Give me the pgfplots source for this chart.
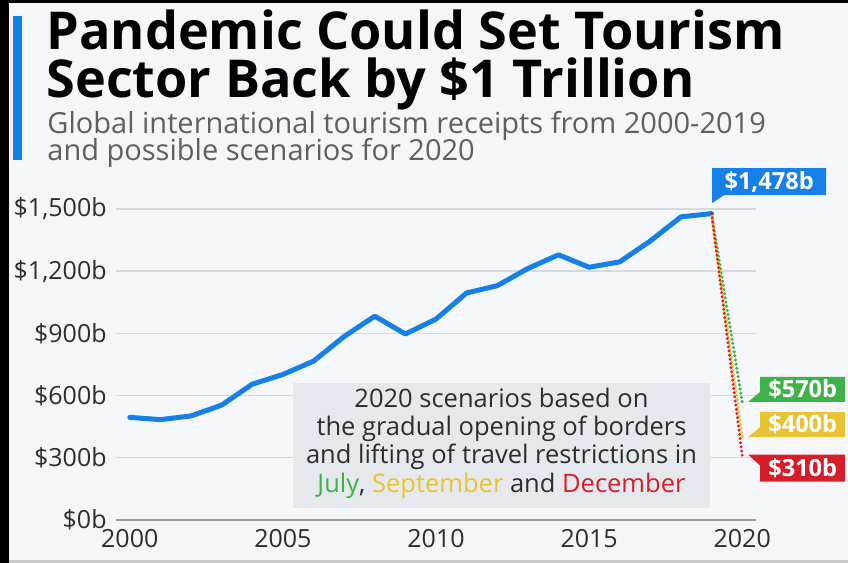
\documentclass[border=0pt]{standalone}
\usepackage{fontspec}
\setmainfont{Open Sans}
\usepackage{pgfplots}
\pgfplotsset{compat=1.18}
\definecolor{bg}{RGB}{244,246,249}
\definecolor{sblue}{RGB}{22,128,230}
\definecolor{sgreen}{RGB}{62,178,72}
\definecolor{syellow}{RGB}{232,196,52}
\definecolor{sred}{RGB}{214,30,42}
\definecolor{boxgray}{RGB}{229,232,237}
\definecolor{txt}{RGB}{45,45,45}
\definecolor{sub}{RGB}{95,95,95}
\definecolor{gridc}{RGB}{214,217,221}
\definecolor{axisc}{RGB}{150,152,156}
\definecolor{edge}{RGB}{200,202,205}
\begin{document}
\begin{tikzpicture}[x=0.5pt,y=0.5pt]
\path[use as bounding box] (0,0) rectangle (848,563);
\fill[bg] (0,0) rectangle (848,563);
\fill[edge] (9,0) rectangle (848,2.5);
\fill[black] (0,0) rectangle (8.5,563);
\fill[black] (0,559.5) rectangle (848,563);
\fill[sblue] (13,403) rectangle (22,547);
\node[anchor=base west, inner sep=0] at (46,513) {\fontsize{26.1}{25}\selectfont\bfseries Pandemic Could Set Tourism};
\node[anchor=base west, inner sep=0] at (46,465) {\fontsize{26.1}{25}\selectfont\bfseries Sector Back by \$1 Trillion};
\node[anchor=base west, inner sep=0, text=sub] at (47,429) {\fontsize{14.5}{16}\selectfont Global international tourism receipts from 2000-2019};
\node[anchor=base west, inner sep=0, text=sub] at (47,402) {\fontsize{14.5}{16}\selectfont and possible scenarios for 2020};
\begin{axis}[
  at={(58pt,21.5pt)}, anchor=south west, scale only axis,
  width=320pt, height=155.5pt,
  xmin=1999.55, xmax=2020.45, ymin=0, ymax=1500,
  clip=false,
  axis line style={draw=none},
  tick style={draw=none},
  xtick pos=bottom, ytick pos=left,
  xtick={2000,2005,2010,2015,2020},
  xticklabels={2000,2005,2010,2015,2020},
  ytick={300,600,900,1200,1500},
  yticklabels={{\$300b},{\$600b},{\$900b},{\$1,200b},{\$1,500b}},
  extra y ticks={0},
  extra y tick labels={{\$0b}},
  extra y tick style={grid style={draw=axisc, line width=1.2pt}},
  ymajorgrids,
  grid style={draw=gridc, line width=0.7pt},
  /pgf/number format/assume math mode=true,
  ticklabel style={font=\fontsize{12.5}{14}\selectfont, text=txt},
  yticklabel style={anchor=east, inner sep=0pt, xshift=-4.5pt},
  xticklabel style={anchor=north, inner sep=0pt, yshift=-4.5pt},
]
\addplot[sblue, line width=2.5pt, line join=round, line cap=round] coordinates {
(2000,495) (2001,484) (2002,502) (2003,554) (2004,655) (2005,702) (2006,766)
(2007,885) (2008,983) (2009,897) (2010,969) (2011,1095) (2012,1130) (2013,1213)
(2014,1279) (2015,1219) (2016,1245) (2017,1346) (2018,1462) (2019,1478)};
\addplot[sgreen, line width=1.7pt, line cap=round, dash pattern=on 0pt off 2.1pt, dash phase=1.4pt] coordinates {(2019,1478) (2020,570)};
\addplot[syellow, line width=1.7pt, line cap=round, dash pattern=on 0pt off 2.1pt, dash phase=0.7pt] coordinates {(2019,1478) (2020,400)};
\addplot[sred, line width=1.6pt, line cap=round, dash pattern=on 0pt off 2.1pt, dash phase=0pt] coordinates {(2019,1478) (2020,310)};
% value labels
\fill[sblue] ([shift={(0.25pt,5.25pt)}]axis cs:2019,1478) -- ([shift={(0.25pt,22.75pt)}]axis cs:2019,1478) -- ([shift={(57.25pt,22.75pt)}]axis cs:2019,1478) -- ([shift={(57.25pt,9.25pt)}]axis cs:2019,1478) -- ([shift={(6.25pt,9.25pt)}]axis cs:2019,1478) -- cycle;
\node[text=white, inner sep=0, font=\fontsize{11.8}{14}\selectfont\bfseries] at ([shift={(28.75pt,16pt)}]axis cs:2019,1478) {\$1,478b};
\fill[sgreen] ([shift={(3pt,0pt)}]axis cs:2020,570) -- ([shift={(9pt,5pt)}]axis cs:2020,570) -- ([shift={(9pt,12.5pt)}]axis cs:2020,570) -- ([shift={(51.5pt,12.5pt)}]axis cs:2020,570) -- ([shift={(51.5pt,0pt)}]axis cs:2020,570) -- cycle;
\node[text=white, inner sep=0, font=\fontsize{11.8}{14}\selectfont\bfseries] at ([shift={(30.25pt,6.25pt)}]axis cs:2020,570) {\$570b};
\fill[syellow] ([shift={(3pt,0pt)}]axis cs:2020,400) -- ([shift={(9pt,5pt)}]axis cs:2020,400) -- ([shift={(9pt,12.5pt)}]axis cs:2020,400) -- ([shift={(51.5pt,12.5pt)}]axis cs:2020,400) -- ([shift={(51.5pt,0pt)}]axis cs:2020,400) -- cycle;
\node[text=white, inner sep=0, font=\fontsize{11.8}{14}\selectfont\bfseries] at ([shift={(30.25pt,6.25pt)}]axis cs:2020,400) {\$400b};
\fill[sred] ([shift={(3pt,0.5pt)}]axis cs:2020,310) -- ([shift={(51.5pt,0.5pt)}]axis cs:2020,310) -- ([shift={(51.5pt,-13pt)}]axis cs:2020,310) -- ([shift={(9pt,-13pt)}]axis cs:2020,310) -- ([shift={(9pt,-5pt)}]axis cs:2020,310) -- cycle;
\node[text=white, inner sep=0, font=\fontsize{11.8}{14}\selectfont\bfseries] at ([shift={(30.25pt,-6.25pt)}]axis cs:2020,310) {\$310b};
\end{axis}
% annotation box
\fill[boxgray] (293,55) rectangle (710,180);
\begin{scope}[every node/.style={anchor=base, inner sep=0, text=txt, font=\fontsize{12.75}{14}\selectfont}]
\node at (501.5,155) {2020 scenarios based on};
\node at (501.5,127) {the gradual opening of borders};
\node at (501.5,99) {and lifting of travel restrictions in};
\node at (501.5,70) {\textcolor{sgreen}{July}, \textcolor{syellow}{September} and \textcolor{sred}{December}};
\end{scope}
\end{tikzpicture}
\end{document}
